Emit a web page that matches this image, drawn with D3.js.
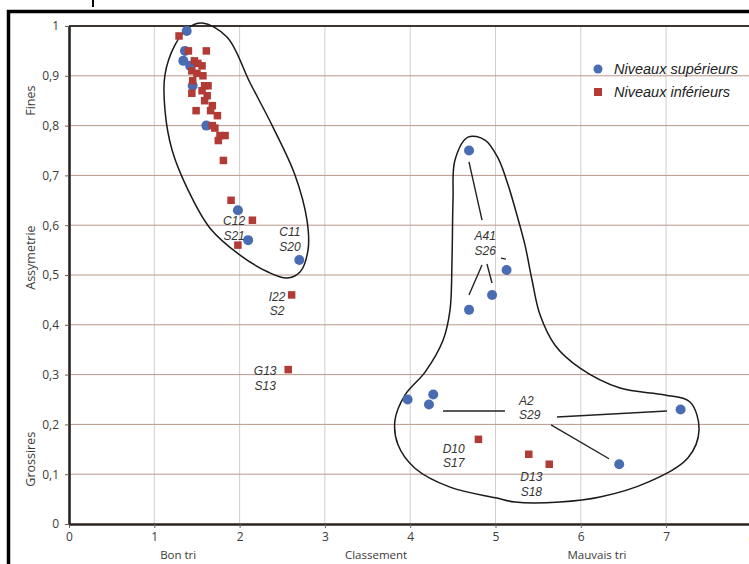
<!DOCTYPE html>
<html><head><meta charset="utf-8">
<script src="https://cdn.jsdelivr.net/npm/d3@7"></script>
<style>body{margin:0;background:#fff}svg{display:block}</style>
</head><body>
<svg id="c" width="749" height="564"></svg>
<script>
// ---- data ----
const xTicks = [0,1,2,3,4,5,6,7,8];
const yTicks = [0,0.1,0.2,0.3,0.4,0.5,0.6,0.7,0.8,0.9,1];
const yTitles = [{t:"Fines", v:0.85},{t:"Assymetrie", v:0.535},{t:"Grossires", v:0.13}];
const xTitles = [{t:"Bon tri", v:1.28},{t:"Classement", v:3.6},{t:"Mauvais tri", v:6.19}];
const seriesNames = ["Niveaux supérieurs","Niveaux inférieurs"];
const superieurs = [
  [1.38,0.99],[1.36,0.95],[1.34,0.93],[1.42,0.92],[1.45,0.88],[1.61,0.80],
  [1.98,0.63],[2.10,0.57],[2.70,0.53],
  [4.69,0.75],[5.13,0.51],[4.96,0.46],[4.69,0.43],
  [3.97,0.25],[4.27,0.26],[4.22,0.24],[7.17,0.23],[6.45,0.12]
];
const inferieurs = [
  [1.29,0.98],[1.40,0.95],[1.61,0.95],[1.47,0.93],[1.51,0.925],[1.56,0.92],
  [1.44,0.91],[1.50,0.905],[1.57,0.90],[1.45,0.89],[1.59,0.88],[1.63,0.88],
  [1.56,0.87],[1.44,0.865],[1.62,0.86],[1.59,0.85],[1.49,0.83],[1.68,0.84],
  [1.66,0.83],[1.74,0.82],[1.68,0.80],[1.71,0.795],[1.77,0.78],[1.83,0.78],
  [1.75,0.77],[1.81,0.73],
  [1.90,0.65],[2.15,0.61],[1.98,0.56],[2.61,0.46],[2.57,0.31],
  [4.80,0.17],[5.39,0.14],[5.63,0.12]
];
// annotation labels: [line1, line2, x, y, anchor]
const labels = [
  ["C12","S21",1.935,0.608,"middle"],
  ["C11","S20",2.59,0.586,"middle"],
  ["I22","S2",2.44,0.456,"middle"],
  ["G13","S13",2.30,0.307,"middle"],
  ["A41","S26",4.88,0.578,"middle"],
  ["A2","S29",5.275,0.247,"start"],
  ["D10","S17",4.51,0.151,"middle"],
  ["D13","S18",5.42,0.094,"middle"]
];
const leaders = [
  [[4.689,0.727],[4.842,0.610]],
  [[4.842,0.520],[4.689,0.460]],
  [[4.900,0.522],[4.959,0.484]],
  [[5.064,0.534],[5.123,0.532]],
  [[4.385,0.227],[5.111,0.227]],
  [[5.721,0.215],[7.011,0.227]],
  [[5.651,0.199],[6.331,0.131]]
];
const outlineLeft = [
  [1.559,1.006],[1.852,0.978],[2.122,0.886],[2.391,0.797],[2.649,0.701],[2.790,0.610],
  [2.802,0.550],[2.708,0.506],[2.556,0.494],[2.333,0.506],[2.005,0.540],[1.653,0.594],
  [1.395,0.671],[1.208,0.751],[1.125,0.831],[1.125,0.902],[1.243,0.962],[1.395,0.996]
];
const outlineRight = [
  [4.678,0.777],[4.877,0.771],[5.029,0.735],[5.147,0.681],[5.252,0.620],[5.346,0.560],
  [5.428,0.490],[5.522,0.420],[5.698,0.359],[5.991,0.313],[6.460,0.273],[6.987,0.259],
  [7.280,0.245],[7.386,0.189],[7.257,0.133],[6.788,0.084],[6.225,0.054],[5.756,0.044],
  [5.229,0.044],[5.018,0.052],[4.467,0.074],[4.056,0.112],[3.857,0.159],[3.822,0.209],
  [3.939,0.259],[4.174,0.305],[4.385,0.369],[4.467,0.430],[4.490,0.530],[4.502,0.651],
  [4.525,0.731]
];

// ---- drawing ----
const svg = d3.select("#c");
const W = 749, H = 564;
const x = d3.scaleLinear().domain([0,8]).range([69, 751.4]);
const y = d3.scaleLinear().domain([0,1]).range([524, 26]);
const BLUE = "#4a6cb3", RED = "#b23b35";
const fmt = d => String(+d.toFixed(1)).replace(".", ",");

svg.append("rect").attr("width",W).attr("height",H).attr("fill","#fff");

// gridlines
svg.append("g").selectAll("line").data(xTicks.filter(d=>d>0)).join("line")
  .attr("x1",d=>x(d)).attr("x2",d=>x(d)).attr("y1",y(1)).attr("y2",y(0))
  .attr("stroke","#d6cccc").attr("stroke-width",1);
svg.append("g").selectAll("line").data(yTicks.filter(d=>d>0 && d<1)).join("line")
  .attr("x1",x(0)).attr("x2",x(8)).attr("y1",d=>y(d)).attr("y2",d=>y(d))
  .attr("stroke","#b9978a").attr("stroke-width",1);
// top border of plot
svg.append("line").attr("x1",x(0)).attr("x2",x(8)).attr("y1",y(1)).attr("y2",y(1))
  .attr("stroke","#3b3430").attr("stroke-width",2);

// axes
const tickFont = "'Liberation Sans Narrow','Open Sans',sans-serif";
const gx = svg.append("g").attr("transform",`translate(0,${y(0)})`)
  .call(d3.axisBottom(x).tickValues(xTicks).tickSize(4).tickSizeOuter(0).tickFormat(d3.format("d")));
const gy = svg.append("g").attr("transform",`translate(${x(0)},0)`)
  .call(d3.axisLeft(y).tickValues(yTicks).tickSize(4).tickSizeOuter(0).tickFormat(fmt));
[gx,gy].forEach(g=>{
  g.select(".domain").attr("stroke","#2b2522").attr("stroke-width",2.6);
  g.selectAll(".tick line").attr("stroke","#6b5f5a");
  g.selectAll("text").attr("fill","#3a3a3a").style("font-family",tickFont).style("font-size","12px");
});
gx.selectAll("text").attr("dy","0.85em");
gy.selectAll("text").attr("dx","-3px");

// axis titles
const titleFont = "'Open Sans','Noto Sans',sans-serif";
svg.append("g").selectAll("text").data(yTitles).join("text")
  .attr("transform",d=>`translate(35,${y(d.v)}) rotate(-90)`)
  .attr("text-anchor","middle").attr("fill","#3a3a3a")
  .style("font-family",titleFont).style("font-size","12.5px").text(d=>d.t);
svg.append("g").selectAll("text").data(xTitles).join("text")
  .attr("x",d=>x(d.v)).attr("y",559)
  .attr("text-anchor","middle").attr("fill","#3a3a3a")
  .style("font-family",titleFont).style("font-size","11.5px").text(d=>d.t);

// outlines
const lineGen = d3.line().x(d=>x(d[0])).y(d=>y(d[1])).curve(d3.curveCatmullRomClosed.alpha(0.5));
[outlineLeft, outlineRight].forEach(o=>{
  svg.append("path").attr("d",lineGen(o)).attr("fill","none")
    .attr("stroke","#1a1a1a").attr("stroke-width",1.5);
});

// leader lines
svg.append("g").selectAll("line").data(leaders).join("line")
  .attr("x1",d=>x(d[0][0])).attr("y1",d=>y(d[0][1]))
  .attr("x2",d=>x(d[1][0])).attr("y2",d=>y(d[1][1]))
  .attr("stroke","#222").attr("stroke-width",1.4);

// points
svg.append("g").selectAll("circle").data(superieurs).join("circle")
  .attr("cx",d=>x(d[0])).attr("cy",d=>y(d[1])).attr("r",5).attr("fill",BLUE);
const S = 7.5;
svg.append("g").selectAll("rect").data(inferieurs).join("rect")
  .attr("x",d=>x(d[0])-S/2).attr("y",d=>y(d[1])-S/2).attr("width",S).attr("height",S).attr("fill",RED);

// labels
const labFont = "'Liberation Sans',Arial,sans-serif";
const lg = svg.append("g").style("font-family",labFont).style("font-size","12px")
  .style("font-style","italic").attr("fill","#333");
labels.forEach(l=>{
  const t = lg.append("text").attr("text-anchor",l[4]);
  t.append("tspan").attr("x",x(l[2])).attr("y",y(l[3])+4).text(l[0]);
  t.append("tspan").attr("x",x(l[2])).attr("y",y(l[3])+18.5).text(l[1]);
});

// legend
const leg = svg.append("g");
leg.append("circle").attr("cx",598).attr("cy",69).attr("r",4.5).attr("fill",BLUE);
leg.append("rect").attr("x",594).attr("y",88).attr("width",8).attr("height",8).attr("fill",RED);
leg.selectAll("text").data(seriesNames).join("text")
  .attr("x",614).attr("y",(d,i)=>74+i*22.5)
  .style("font-family",labFont).style("font-size","14.5px").style("font-style","italic")
  .attr("fill","#222").text(d=>d);

// outer frame
svg.append("rect").attr("x",8.5).attr("y",11.5).attr("width",W+20).attr("height",H+20)
  .attr("fill","none").attr("stroke","#000").attr("stroke-width",3.5);
svg.append("line").attr("x1",93).attr("x2",93).attr("y1",0).attr("y2",7)
  .attr("stroke","#000").attr("stroke-width",2);
</script>
</body></html>
